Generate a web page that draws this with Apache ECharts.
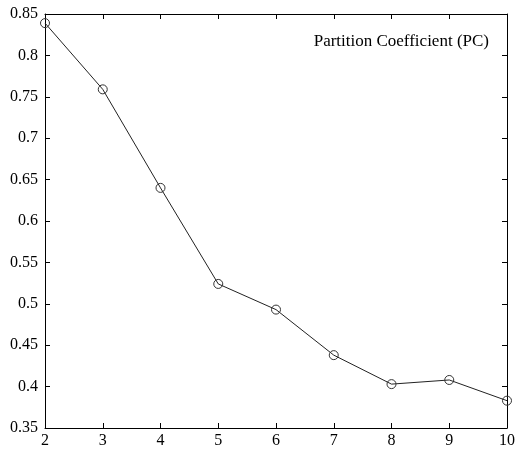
<!DOCTYPE html>
<html><head><meta charset="utf-8">
<script src="https://cdn.jsdelivr.net/npm/echarts@6/dist/echarts.min.js"></script>
<style>html,body{margin:0;padding:0;background:#fff}#c{width:518px;height:453px}</style>
</head><body><div id="c"></div>
<script>
const clusters = [2, 3, 4, 5, 6, 7, 8, 9, 10];
const pcValues = [0.839, 0.759, 0.640, 0.524, 0.493, 0.438, 0.403, 0.408, 0.383];
const titleText = 'Partition Coefficient (PC)';
const font = '"Liberation Serif", "DejaVu Serif", serif';
const chart = echarts.init(document.getElementById('c'));
const axisCommon = {
  axisLine: {show: true, onZero: false, lineStyle: {color: '#000', width: 1}},
  axisTick: {show: true, inside: true, length: 5, lineStyle: {color: '#000'}},
  splitLine: {show: false}
};
chart.setOption({
  animation: false,
  backgroundColor: '#fff',
  title: {text: titleText, right: 29, top: 33, padding: 0, textStyle: {fontFamily: font, fontSize: 17, fontWeight: 'normal', color: '#000'}},
  grid: {left: 45, right: 9, top: 14, bottom: 25, containLabel: false},
  xAxis: [
    Object.assign({type: 'value', min: 2, max: 10, interval: 1, position: 'bottom',
      axisLabel: {fontFamily: font, fontSize: 16, color: '#000', margin: 5}}, axisCommon),
    Object.assign({type: 'value', min: 2, max: 10, interval: 1, position: 'top',
      axisLabel: {show: false}}, axisCommon)
  ],
  yAxis: [
    Object.assign({type: 'value', min: 0.35, max: 0.85, interval: 0.05, position: 'left',
      axisLabel: {fontFamily: font, fontSize: 16, color: '#000', margin: 7,
        formatter: v => String(parseFloat(v.toFixed(2)))}}, axisCommon),
    Object.assign({type: 'value', min: 0.35, max: 0.85, interval: 0.05, position: 'right',
      axisLabel: {show: false}}, axisCommon)
  ],
  series: [{
    type: 'line',
    data: clusters.map((c, i) => [c, pcValues[i]]),
    symbol: 'circle', symbolSize: 9,
    itemStyle: {color: 'rgba(0,0,0,0)', borderColor: '#333', borderWidth: 1},
    lineStyle: {color: '#222', width: 1},
    clip: false
  }]
});
</script></body></html>
